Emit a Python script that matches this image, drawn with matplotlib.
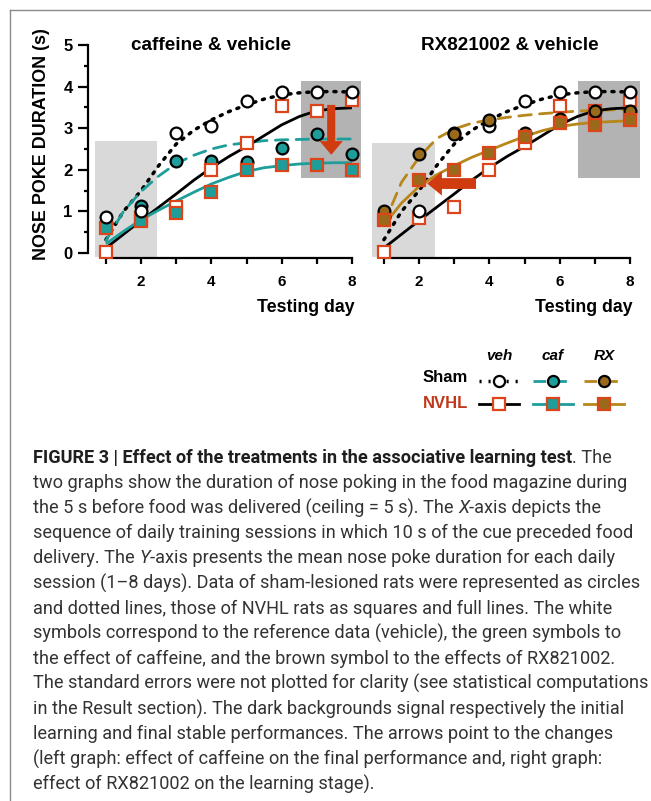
import matplotlib
matplotlib.use("Agg")
import matplotlib.pyplot as plt
from matplotlib.patches import Rectangle, FancyArrow
from matplotlib.lines import Line2D

# ---------------- data ----------------
days = [1, 2, 3, 4, 5, 6, 7, 8]
sham_veh = [0.86, 1.02, 2.88, 3.06, 3.66, 3.86, 3.88, 3.88]
nvhl_veh = [0.02, 0.85, 1.10, 2.00, 2.65, 3.54, 3.42, 3.68]
sham_caf = [0.72, 1.12, 2.20, 2.20, 2.18, 2.52, 2.86, 2.38]
nvhl_caf = [0.60, 0.78, 0.96, 1.46, 2.00, 2.12, 2.12, 2.00]
sham_rx = [1.00, 2.37, 2.85, 3.20, 2.89, 3.22, 3.42, 3.42]
nvhl_rx = [0.79, 1.75, 2.00, 2.40, 2.80, 3.12, 3.08, 3.20]

# fitted curves at half-day steps
curve_days = [1, 1.5, 2, 2.5, 3, 3.5, 4, 4.5, 5, 5.5, 6, 6.5, 7, 7.5, 8]
fit_sham_veh = [0.32, 1.00, 1.50, 2.10, 2.62, 2.95, 3.20, 3.40, 3.56, 3.70, 3.80, 3.85, 3.88, 3.88, 3.87]
fit_nvhl_veh = [0.12, 0.45, 0.78, 1.10, 1.42, 1.75, 2.05, 2.32, 2.56, 2.82, 3.08, 3.28, 3.42, 3.47, 3.49]
fit_sham_caf = [0.30, 1.00, 1.48, 1.85, 2.15, 2.35, 2.50, 2.60, 2.65, 2.70, 2.72, 2.73, 2.74, 2.74, 2.74]
fit_nvhl_caf = [0.22, 0.52, 0.80, 1.03, 1.25, 1.46, 1.66, 1.82, 1.96, 2.05, 2.10, 2.14, 2.16, 2.17, 2.17]
fit_sham_rx = [0.70, 1.70, 2.30, 2.75, 2.98, 3.12, 3.20, 3.26, 3.31, 3.35, 3.38, 3.41, 3.43, 3.44, 3.45]
fit_nvhl_rx = [0.67, 1.20, 1.60, 1.88, 2.10, 2.30, 2.47, 2.64, 2.80, 2.94, 3.04, 3.10, 3.14, 3.16, 3.18]

# shaded zones (x0, x1, y0, y1)
left_light = (0.69, 2.45, -0.10, 2.70)
left_dark = (6.54, 8.27, 1.80, 4.13)
right_light = (0.66, 2.44, -0.10, 2.64)
right_dark = (6.52, 8.28, 1.80, 4.13)

# arrows (x, y, dx, dy)
left_arrow = (7.41, 3.56, 0.0, -1.20)
right_arrow = (3.62, 1.67, -1.39, 0.0)

yticks = [0, 1, 2, 3, 4, 5]
xticklabels = {2: "2", 4: "4", 6: "6", 8: "8"}

caption_lines = [
    [("FIGURE 3 | Effect of the treatments in the associative learning test", "b"), (". The", "r")],
    [("two graphs show the duration of nose poking in the food magazine during", "r")],
    [("the 5 s before food was delivered (ceiling = 5 s). The ", "r"), ("X", "i"), ("-axis depicts the", "r")],
    [("sequence of daily training sessions in which 10 s of the cue preceded food", "r")],
    [("delivery. The ", "r"), ("Y", "i"), ("-axis presents the mean nose poke duration for each daily", "r")],
    [("session (1\u20138 days). Data of sham-lesioned rats were represented as circles", "r")],
    [("and dotted lines, those of NVHL rats as squares and full lines. The white", "r")],
    [("symbols correspond to the reference data (vehicle), the green symbols to", "r")],
    [("the effect of caffeine, and the brown symbol to the effects of RX821002.", "r")],
    [("The standard errors were not plotted for clarity (see statistical computations", "r")],
    [("in the Result section). The dark backgrounds signal respectively the initial", "r")],
    [("learning and final stable performances. The arrows point to the changes", "r")],
    [("(left graph: effect of caffeine on the final performance and, right graph:", "r")],
    [("effect of RX821002 on the learning stage).", "r")],
]

# ---------------- style ----------------
W, H = 651, 801
plt.rcParams["font.family"] = ["Liberation Sans", "DejaVu Sans"]
TEAL = "#1d9e9b"
BROWN_LINE = "#b8861b"
BROWN_FILL = "#9a6a1c"
SQ_EDGE = "#dc4419"
ARROW = "#d03c10"
LIGHT = "#d9d9d9"
DARK = "#b3b3b3"
NVHL_RED = "#c0391b"

fig = plt.figure(figsize=(W / 100, H / 100), dpi=100)


def fx(px):
    return px / W


def fy(py):
    return 1 - py / H


def make_axes(x0px):
    x1px = x0px + 274.5
    ax = fig.add_axes([fx(x0px), fy(258), fx(x1px) - fx(x0px), fy(45) - fy(258)])
    ax.set_xlim(0.49, 8.3)
    ax.set_ylim(-0.12, 5.0)
    ax.patch.set_alpha(0)
    for s in ["top", "right"]:
        ax.spines[s].set_visible(False)
    ax.spines["bottom"].set_bounds(1, 8)
    ax.spines["left"].set_bounds(0, 5)
    for s in ["bottom", "left"]:
        ax.spines[s].set_linewidth(1.6)
    ax.set_xticks(days)
    ax.set_xticklabels([xticklabels.get(d, "") for d in days], fontsize=11, fontweight="bold")
    ax.tick_params(axis="x", direction="out", length=4, width=1.6, pad=8.5)
    return ax


def zone(ax, z, color):
    ax.add_patch(Rectangle((z[0], z[2]), z[1] - z[0], z[3] - z[2], facecolor=color,
                           edgecolor="none", zorder=0))


def curve(ax, y, color, ls, lw=2.0):
    ax.plot(curve_days, y, color=color, linestyle=ls, lw=lw, zorder=2,
            dash_capstyle="round", solid_capstyle="butt")


def pts(ax, y, marker, face, edge, ms):
    ax.plot(days, y, linestyle="none", marker=marker, markersize=ms, markerfacecolor=face,
            markeredgecolor=edge, markeredgewidth=1.6, zorder=4)


DOT = (0, (0.6, 2.0))
DASH = (0, (4.5, 3))

# ---- left panel ----
axL = make_axes(88)
axL.set_yticks(yticks)
axL.set_yticklabels([str(v) for v in yticks], fontsize=12, fontweight="bold")
axL.set_yticks([v + 0.5 for v in yticks[:-1]], minor=True)
axL.tick_params(axis="y", which="major", direction="out", length=7, width=1.6, pad=4)
axL.tick_params(axis="y", which="minor", direction="out", length=2.8, width=1.6)
zone(axL, left_light, LIGHT)
zone(axL, left_dark, DARK)
curve(axL, fit_sham_veh, "black", DOT, 2.5)
curve(axL, fit_sham_caf, TEAL, DASH)
curve(axL, fit_nvhl_veh, "black", "-")
curve(axL, fit_nvhl_caf, TEAL, "-")
pts(axL, sham_caf, "o", TEAL, "black", 8.5)
pts(axL, nvhl_veh, "s", "white", SQ_EDGE, 8)
pts(axL, nvhl_caf, "s", TEAL, SQ_EDGE, 8)
pts(axL, sham_veh, "o", "white", "black", 8.5)
axL.add_patch(FancyArrow(*left_arrow, width=0.23, head_width=0.66, head_length=0.33,
                         length_includes_head=True, color=ARROW, zorder=5, lw=0))

# ---- right panel ----
axR = make_axes(366)
axR.spines["left"].set_visible(False)
axR.set_yticks([])
zone(axR, right_light, LIGHT)
zone(axR, right_dark, DARK)
curve(axR, fit_sham_veh, "black", DOT, 2.5)
curve(axR, fit_sham_rx, BROWN_LINE, DASH)
curve(axR, fit_nvhl_veh, "black", "-")
curve(axR, fit_nvhl_rx, BROWN_LINE, "-")
pts(axR, nvhl_veh, "s", "white", SQ_EDGE, 8)
pts(axR, sham_veh, "o", "white", "black", 8.5)
pts(axR, sham_rx, "o", BROWN_FILL, "black", 8.5)
pts(axR, nvhl_rx, "s", BROWN_FILL, SQ_EDGE, 8)
axR.add_patch(FancyArrow(*right_arrow, width=0.26, head_width=0.58, head_length=0.42,
                         length_includes_head=True, color=ARROW, zorder=5, lw=0))

# ---- chart texts ----
fig.text(fx(211), fy(45), "caffeine & vehicle", ha="center", va="center", fontsize=13.6, fontweight="bold")
fig.text(fx(510), fy(45), "RX821002 & vehicle", ha="center", va="center", fontsize=13.6, fontweight="bold")
fig.text(fx(355), fy(307), "Testing day", ha="right", va="center", fontsize=12.8, fontweight="bold")
fig.text(fx(633), fy(307), "Testing day", ha="right", va="center", fontsize=12.8, fontweight="bold")
fig.text(fx(42), fy(144), "NOSE POKE DURATION (s)", rotation=90, ha="center", va="center",
         fontsize=12.9, fontweight="bold")

# ---- legend ----
axLeg = fig.add_axes([fx(400), fy(440), fx(651) - fx(400), fy(340) - fy(440)])
axLeg.set_xlim(400, 651)
axLeg.set_ylim(440, 340)
axLeg.axis("off")
leg_cols = [
    ("veh", 499, ("black", DOT, "white", "black"), ("black", "-", "white", SQ_EDGE)),
    ("caf", 553, (TEAL, DASH, TEAL, "black"), (TEAL, "-", TEAL, SQ_EDGE)),
    ("RX", 604, (BROWN_LINE, DASH, BROWN_FILL, "black"), (BROWN_LINE, "-", BROWN_FILL, SQ_EDGE)),
]
for name, cx, sham_sty, nvhl_sty in leg_cols:
    axLeg.text(cx, 356, name, ha="center", va="center", fontsize=11, fontweight="bold", style="italic")
    for (lc, ls, mf, me), yy, mk, ms in [(sham_sty, 381, "o", 8), (nvhl_sty, 404, "s", 8)]:
        axLeg.plot([cx - 20, cx + 20], [yy, yy], color=lc, linestyle=ls, lw=(2.5 if ls == DOT else 2.0))
        axLeg.plot([cx], [yy], marker=mk, markersize=ms, markerfacecolor=mf, markeredgecolor=me,
                   markeredgewidth=1.6, linestyle="none")
axLeg.text(423, 378, "Sham", ha="left", va="center", fontsize=12, fontweight="bold", color="black")
axLeg.text(423, 403, "NVHL", ha="left", va="center", fontsize=12, fontweight="bold", color=NVHL_RED)

# ---- frame lines ----
fig.add_artist(Line2D([fx(9.5), fx(9.5)], [fy(9.5), 0], color="#8a8a8a", lw=1.0))
fig.add_artist(Line2D([fx(9.5), 1], [fy(9.5), fy(9.5)], color="#8a8a8a", lw=1.0))

# ---- caption ----
CAP_FONT = ["Roboto", "Liberation Sans", "DejaVu Sans"]
renderer = fig.canvas.get_renderer()


def text_width(s, size, style):
    kw = dict(fontsize=size, family=CAP_FONT)
    if style == "b":
        kw["fontweight"] = "bold"
    if style == "i":
        kw["style"] = "italic"
    t = fig.text(0, 0, s + "l", **kw)
    w1 = t.get_window_extent(renderer).width
    t.set_text("l")
    w2 = t.get_window_extent(renderer).width
    t.remove()
    return w1 - w2


ref_line = caption_lines[9][0][0]
base = 12.0
cap_size = base * 614.0 / text_width(ref_line, base, "r")

y0, dy = 458.0, 25.1
for i, runs in enumerate(caption_lines):
    x = 33.0
    for s, st in runs:
        kw = dict(fontsize=cap_size, family=CAP_FONT, va="center", ha="left")
        if st == "b":
            kw.update(fontweight="bold", color="#1e1e1e")
        else:
            kw.update(color="#333333")
        if st == "i":
            kw["style"] = "italic"
        fig.text(fx(x), fy(y0 + i * dy), s, **kw)
        x += text_width(s, cap_size, st)

fig.savefig("out.png", dpi=100, facecolor="white")
